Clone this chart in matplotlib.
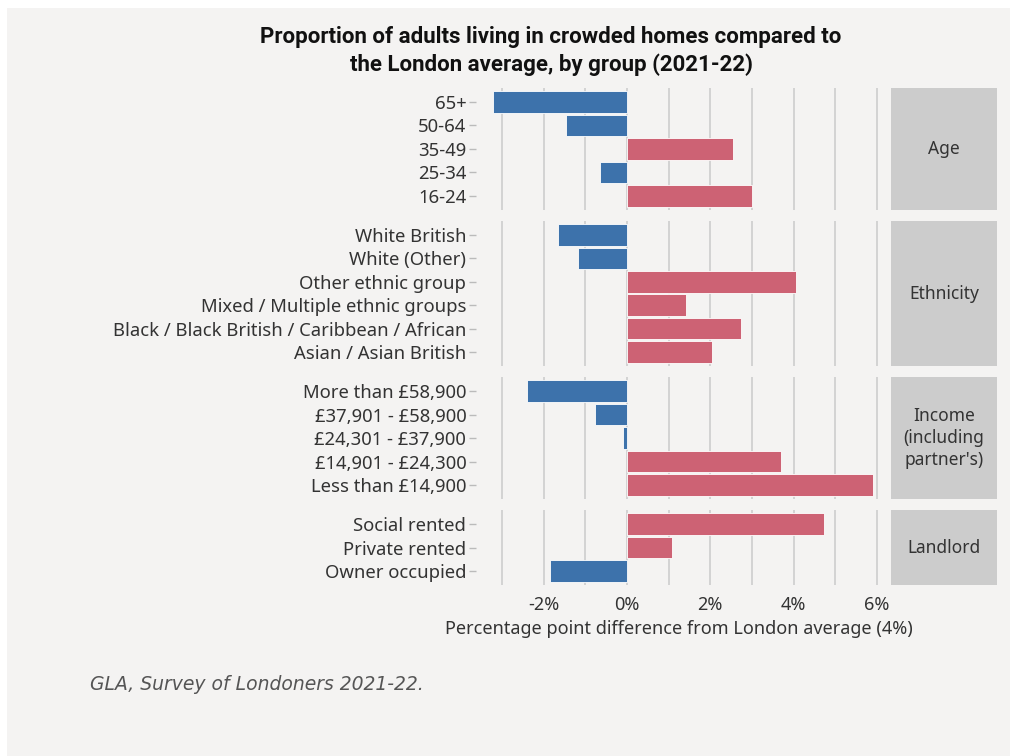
import matplotlib.pyplot as plt
from matplotlib.patches import Rectangle

plt.rcParams['font.family'] = ['Noto Sans', 'DejaVu Sans']

# data: percentage point difference from London average, by facet
groups = ['Age', 'Ethnicity', 'Income\n(including\npartner\'s)', 'Landlord']
labels = [
    ['65+', '50-64', '35-49', '25-34', '16-24'],
    ['White British', 'White (Other)', 'Other ethnic group',
     'Mixed / Multiple ethnic groups',
     'Black / Black British / Caribbean / African', 'Asian / Asian British'],
    ['More than £58,900', '£37,901 - £58,900', '£24,301 - £37,900',
     '£14,901 - £24,300', 'Less than £14,900'],
    ['Social rented', 'Private rented', 'Owner occupied'],
]
values = [
    [-3.21, -1.46, 2.54, -0.65, 3.0],
    [-1.65, -1.17, 4.05, 1.41, 2.73, 2.04],
    [-2.4, -0.77, -0.1, 3.69, 5.9],
    [4.72, 1.08, -1.85],
]
xticks = [-2, 0, 2, 4, 6]
xticklabels = ['-2%', '0%', '2%', '4%', '6%']

bg = '#f4f3f2'
blue = '#3d72ab'
red = '#cd6274'

W, H = 1010, 756
fig = plt.figure(figsize=(W / 100, H / 100), dpi=100, facecolor='white')
fig.patches.append(Rectangle((7 / W, 0), 1, 1 - 8 / H, transform=fig.transFigure,
                             facecolor=bg, edgecolor='none', zorder=-10))

gs = fig.add_gridspec(4, 1, height_ratios=[len(l) + 0.2 for l in labels],
                      left=476 / W, right=882 / W, top=1 - 88 / H, bottom=1 - 585 / H,
                      hspace=0.095)

for i, (g, lab, val) in enumerate(zip(groups, labels, values)):
    ax = fig.add_subplot(gs[i])
    ax.set_facecolor(bg)
    cols = [red if v > 0 else blue for v in val]
    ax.barh(range(len(val)), val, height=0.92, color=cols, edgecolor='white',
            linewidth=0.6, zorder=3)
    ax.set_xlim(-3.62, 6.12)
    ax.set_ylim(len(val) - 0.4, -0.6)
    ax.set_yticks(range(len(val)))
    ax.set_yticklabels(lab, fontsize=13.3, color='#333333')
    ax.set_xticks(xticks)
    ax.set_xticks([-3, -1, 1, 3, 5], minor=True)
    ax.grid(True, axis='x', which='both', color='#d3d3d3', linewidth=1.4, zorder=0)
    ax.tick_params(axis='y', length=5, color='#bbbbbb', width=1, pad=2)
    ax.tick_params(axis='x', which='both', length=0, pad=8)
    if i == len(groups) - 1:
        ax.set_xticklabels(xticklabels, fontsize=13, color='#333333')
        ax.set_xlabel('Percentage point difference from London average (4%)',
                      fontsize=13, color='#333333', labelpad=4)
    else:
        ax.set_xticklabels([])
    for s in ax.spines.values():
        s.set_visible(False)

    # strip on the right
    pos = ax.get_position()
    sax = fig.add_axes([891 / W, pos.y0, 106 / W, pos.height])
    sax.set_facecolor('#cccccc')
    sax.set_xticks([])
    sax.set_yticks([])
    for s in sax.spines.values():
        s.set_visible(False)
    sax.text(0.5, 0.5, g, ha='center', va='center', fontsize=12.5, color='#333333',
             transform=sax.transAxes, linespacing=1.3)

fig.text(551 / W, 1 - 51 / H,
         'Proportion of adults living in crowded homes compared to\nthe London average, by group (2021-22)',
         ha='center', va='center', fontsize=16, fontweight='bold', color='#111111',
         family=['Roboto', 'DejaVu Sans'], linespacing=1.3)

fig.text(90 / W, 1 - 684 / H, 'GLA, Survey of Londoners 2021-22.', ha='left', va='center',
         fontsize=13.5, style='italic', color='#555555', family=['DejaVu Sans'])

plt.savefig('out.png', dpi=100, facecolor=fig.get_facecolor())
